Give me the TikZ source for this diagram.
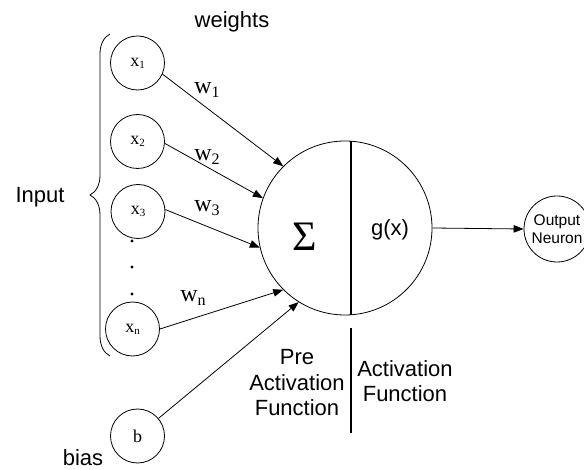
\documentclass[tikz,border=0pt]{standalone}
\usepackage{fontspec}
\setmainfont{Liberation Sans}
\newfontfamily\seriffam{Liberation Serif}
\usetikzlibrary{arrows.meta,decorations.pathreplacing}
\begin{document}
\begin{tikzpicture}[x=1pt,y=-1pt, line width=0.8pt,
  inp/.style={circle,draw,minimum size=54pt,inner sep=0pt,font=\seriffam\fontsize{18}{18}\selectfont},
  lbl/.style={font=\fontsize{22}{25.5}\selectfont, align=center, inner sep=0pt},
  wl/.style={font=\seriffam\fontsize{24}{24}\selectfont, inner sep=0pt},
  arr/.style={-{Triangle[length=10pt,width=7.5pt]}},
  divider/.style={line width=1.8pt}]
\useasboundingbox (0,0) rectangle (584,470);
% input neurons
\node[inp] (x1) at (137.5,63) {x\raisebox{-2pt}{\fontsize{11}{11}\selectfont 1}};
\node[inp] (x2) at (137.5,141.5) {x\raisebox{-2pt}{\fontsize{11}{11}\selectfont 2}};
\node[inp] (x3) at (138,211.5) {x\raisebox{-2pt}{\fontsize{11}{11}\selectfont 3}};
\node[inp] (xn) at (132.5,329) {x\raisebox{-2pt}{\fontsize{11}{11}\selectfont n}};
\node[inp] (b) at (137.5,436) {b};
\fill (132,241) circle (1.7);
\fill (132,267) circle (1.7);
\fill (132,294) circle (1.7);
% brace
\coordinate (bb) at (110,356);
\coordinate (bt) at (110,34);
\draw[decorate,decoration={brace,amplitude=20pt}] (bb) -- (bt);
\node[lbl] (input) at (40,197) {Input};
\node[lbl] (weights) at (232,22) {weights};
\node[lbl] (bias) at (83,458) {bias};
% main neuron
\node[circle,draw,minimum size=174pt,inner sep=0pt] (S) at (345,228) {};
\coordinate (dt) at (351,141.2);
\coordinate (db) at (351,314.8);
\draw[divider] (dt) -- (db);
\node[inner sep=0pt,font=\seriffam\fontsize{42}{42}\selectfont] (sig) at (305,237) {Σ};
\node[lbl] (g) at (390,230) {g(x)};
% output neuron
\node[circle,draw,minimum size=66pt,inner sep=0pt,align=center,font=\fontsize{15.5}{17.5}\selectfont] (O) at (557,229) {Output\\Neuron};
\draw[arr] (S.east) -- (O.west);
% weighted connections
\draw[arr] (x1.-24) -- (S.135);
\draw[arr] (x2.-4) -- (S.160);
\draw[arr] (x3.4) -- (S.193);
\draw[arr] (xn.0) -- (S.225);
\draw[arr] (b.40) -- (S.238);
\node[wl] (w1) at (207,90) {w\raisebox{-4pt}{\fontsize{16}{16}\selectfont 1}};
\node[wl] (w2) at (207,157) {w\raisebox{-4pt}{\fontsize{16}{16}\selectfont 2}};
\node[wl] (w3) at (207,208) {w\raisebox{-4pt}{\fontsize{16}{16}\selectfont 3}};
\node[wl] (wn) at (193,298) {w\raisebox{-4pt}{\fontsize{16}{16}\selectfont n}};
% lower labels
\coordinate (lt) at (351,328);
\coordinate (lb) at (351,433);
\draw[divider] (lt) -- (lb);
\node[lbl] (pre) at (297,383) {Pre\\Activation\\Function};
\node[lbl] (act) at (405,381) {Activation\\Function};
\end{tikzpicture}
\end{document}
